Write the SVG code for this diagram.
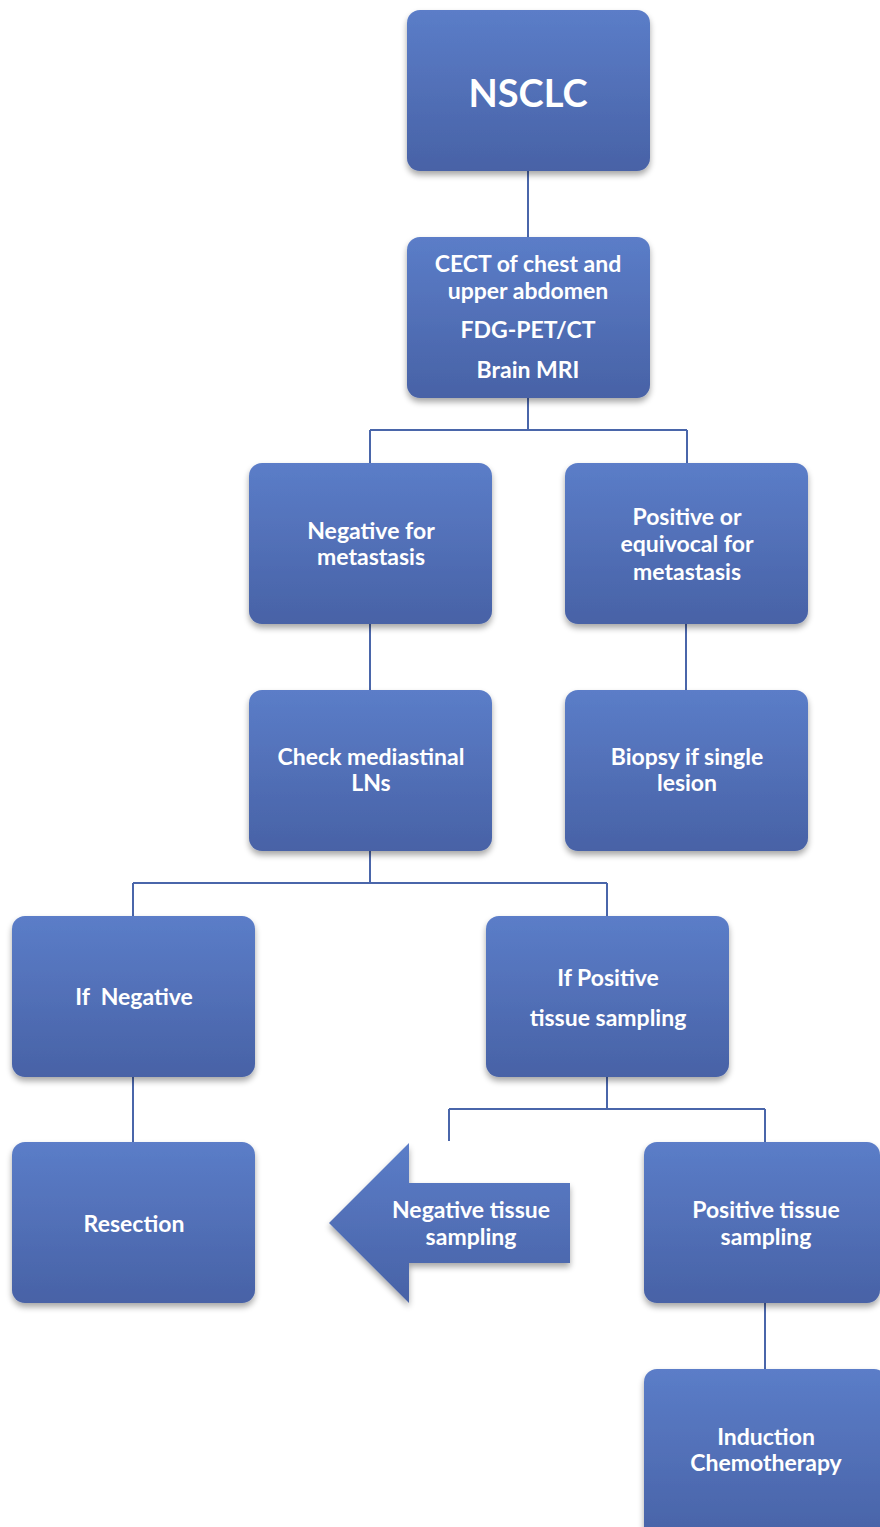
<svg xmlns="http://www.w3.org/2000/svg" width="880" height="1527" viewBox="0 0 880 1527">
<defs>
<linearGradient id="g" x1="0" y1="0" x2="0" y2="1">
<stop offset="0" stop-color="#5b7dc8"/>
<stop offset="1" stop-color="#4862a6"/>
</linearGradient>
<filter id="sh" x="-10%" y="-10%" width="120%" height="125%">
<feGaussianBlur in="SourceAlpha" stdDeviation="3"/>
<feOffset dx="0" dy="4"/>
<feComponentTransfer><feFuncA type="linear" slope="0.35"/></feComponentTransfer>
<feMerge><feMergeNode/><feMergeNode in="SourceGraphic"/></feMerge>
</filter>
</defs>
<style>
.b{fill:url(#g);filter:url(#sh)}
.t{font-family:Lato,"Open Sans","Liberation Sans",sans-serif;font-weight:bold;font-size:23px;fill:#ffffff;text-anchor:middle}
.c{stroke:#4a66aa;stroke-width:2;fill:none}
</style>
<rect width="880" height="1527" fill="#ffffff"/>
<g id="connectors">
<path class="c" d="M528,171V237"/>
<path class="c" d="M528,398V430M370,430H687M370,430V463M687,430V463"/>
<path class="c" d="M370,624V690"/>
<path class="c" d="M686,624V690"/>
<path class="c" d="M370,851V883M133,883H607M133,883V916M607,883V916"/>
<path class="c" d="M133,1077V1142"/>
<path class="c" d="M607,1077V1109M449,1109H765M449,1109V1141M765,1109V1142"/>
<path class="c" d="M765,1303V1369"/>
</g>
<g id="n1"><rect class="b" x="407" y="10" width="243" height="161" rx="13"/><text class="t" x="528" y="107" style="font-size:38px">NSCLC</text></g>
<g id="n2"><rect class="b" x="407" y="237" width="243" height="161" rx="13"/>
<text class="t" x="528" y="272">CECT of chest and</text>
<text class="t" x="528" y="299">upper abdomen</text>
<text class="t" x="528" y="338">FDG-PET/CT</text>
<text class="t" x="528" y="378">Brain MRI</text></g>
<g id="n3"><rect class="b" x="249" y="463" width="243" height="161" rx="13"/>
<text class="t" x="371" y="539">Negative for</text>
<text class="t" x="371" y="565">metastasis</text></g>
<g id="n4"><rect class="b" x="565" y="463" width="243" height="161" rx="13"/>
<text class="t" x="687" y="525">Positive or</text>
<text class="t" x="687" y="552">equivocal for</text>
<text class="t" x="687" y="580">metastasis</text></g>
<g id="n5"><rect class="b" x="249" y="690" width="243" height="161" rx="13"/>
<text class="t" x="371" y="765">Check mediastinal</text>
<text class="t" x="371" y="791">LNs</text></g>
<g id="n6"><rect class="b" x="565" y="690" width="243" height="161" rx="13"/>
<text class="t" x="687" y="765">Biopsy if single</text>
<text class="t" x="687" y="791">lesion</text></g>
<g id="n7"><rect class="b" x="12" y="916" width="243" height="161" rx="13"/>
<text class="t" x="134" y="1005" xml:space="preserve">If  Negative</text></g>
<g id="n8"><rect class="b" x="486" y="916" width="243" height="161" rx="13"/>
<text class="t" x="608" y="986">If Positive</text>
<text class="t" x="608" y="1026">tissue sampling</text></g>
<g id="n9"><rect class="b" x="12" y="1142" width="243" height="161" rx="13"/>
<text class="t" x="134" y="1232">Resection</text></g>
<g id="n10"><path class="b" d="M329,1223L409,1143V1183H570V1263H409V1303Z"/>
<text class="t" x="471" y="1218">Negative tissue</text>
<text class="t" x="471" y="1245">sampling</text></g>
<g id="n11"><rect class="b" x="644" y="1142" width="236" height="161" rx="13"/>
<text class="t" x="766" y="1218">Positive tissue</text>
<text class="t" x="766" y="1245">sampling</text></g>
<g id="n12"><rect class="b" x="644" y="1369" width="243" height="175" rx="13"/>
<text class="t" x="766" y="1445">Induction</text>
<text class="t" x="766" y="1471">Chemotherapy</text></g>
</svg>
